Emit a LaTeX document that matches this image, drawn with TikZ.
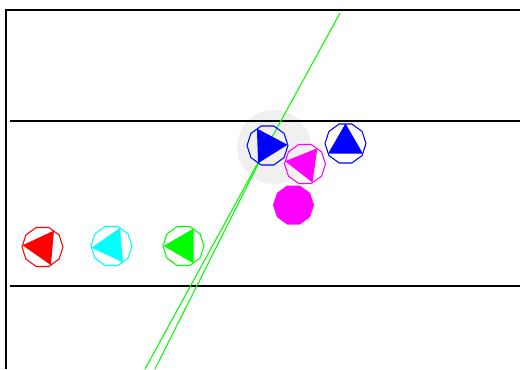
\documentclass[tikz,border=0pt]{standalone}
\usepackage{xcolor}
\usepackage{tikz}
\definecolor{halo_gray}{RGB}{240, 240, 240}
\definecolor{trail_green}{RGB}{0, 255, 0}
\definecolor{bot_red}{RGB}{255, 0, 0}
\definecolor{bot_cyan}{RGB}{0, 255, 255}
\definecolor{bot_blue}{RGB}{0, 0, 255}
\definecolor{bot_magenta}{RGB}{255, 0, 255}

% robot: centre, colour, heading
\newcommand{\drawbot}[3]{%
  \draw[#2] (#1) +(0:20.5) \foreach \k in {1,...,9} { -- +(\k*36:20.5) } -- cycle;
  \fill[#2] (#1) +(#3:20) -- +(#3+120:20) -- +(#3+240:20) -- cycle;
}

\begin{document}
\begin{tikzpicture}[x=0.02cm, y=-0.02cm, line width=0.6pt]
  \useasboundingbox (0,0) rectangle (520,369);

  % robot centres
  \coordinate (red_bot) at (42.5,247);
  \coordinate (cyan_bot) at (111.5,246);
  \coordinate (green_bot) at (183.5,246);
  \coordinate (blue_lead) at (267.5,145.5);
  \coordinate (blue_bot) at (345.5,143.5);
  \coordinate (magenta_bot) at (305,164);
  \coordinate (magenta_ball) at (293.5,205);

  % halo round the leading robot
  \coordinate (halo) at (274,147);
  \fill[halo_gray] (halo) circle[radius=37];

  % walls and lanes
  \draw[line width=0.7pt] (520,10) -- (6,10) -- (6,369);
  \draw[line width=0.7pt] (10,121) -- (520,121);
  \draw[line width=0.7pt] (10,286) -- (520,286);

  % trails
  \coordinate (trail_top) at (340,13);
  \coordinate (trail_end_a) at (145,369);
  \coordinate (trail_end_b) at (155,369);
  \draw[trail_green] (trail_top) -- (trail_end_a);
  \draw[trail_green] (blue_lead) -- (trail_end_b);

  % robots
  \drawbot{red_bot}{bot_red}{185}
  \drawbot{cyan_bot}{bot_cyan}{175}
  \drawbot{green_bot}{trail_green}{180}
  \drawbot{blue_lead}{bot_blue}{-2}
  \drawbot{blue_bot}{bot_blue}{-90}
  \drawbot{magenta_bot}{bot_magenta}{188}
  \fill[bot_magenta] (magenta_ball) +(0:20.5) \foreach \k in {1,...,9} { -- +(\k*36:20.5) } -- cycle;
\end{tikzpicture}
\end{document}
